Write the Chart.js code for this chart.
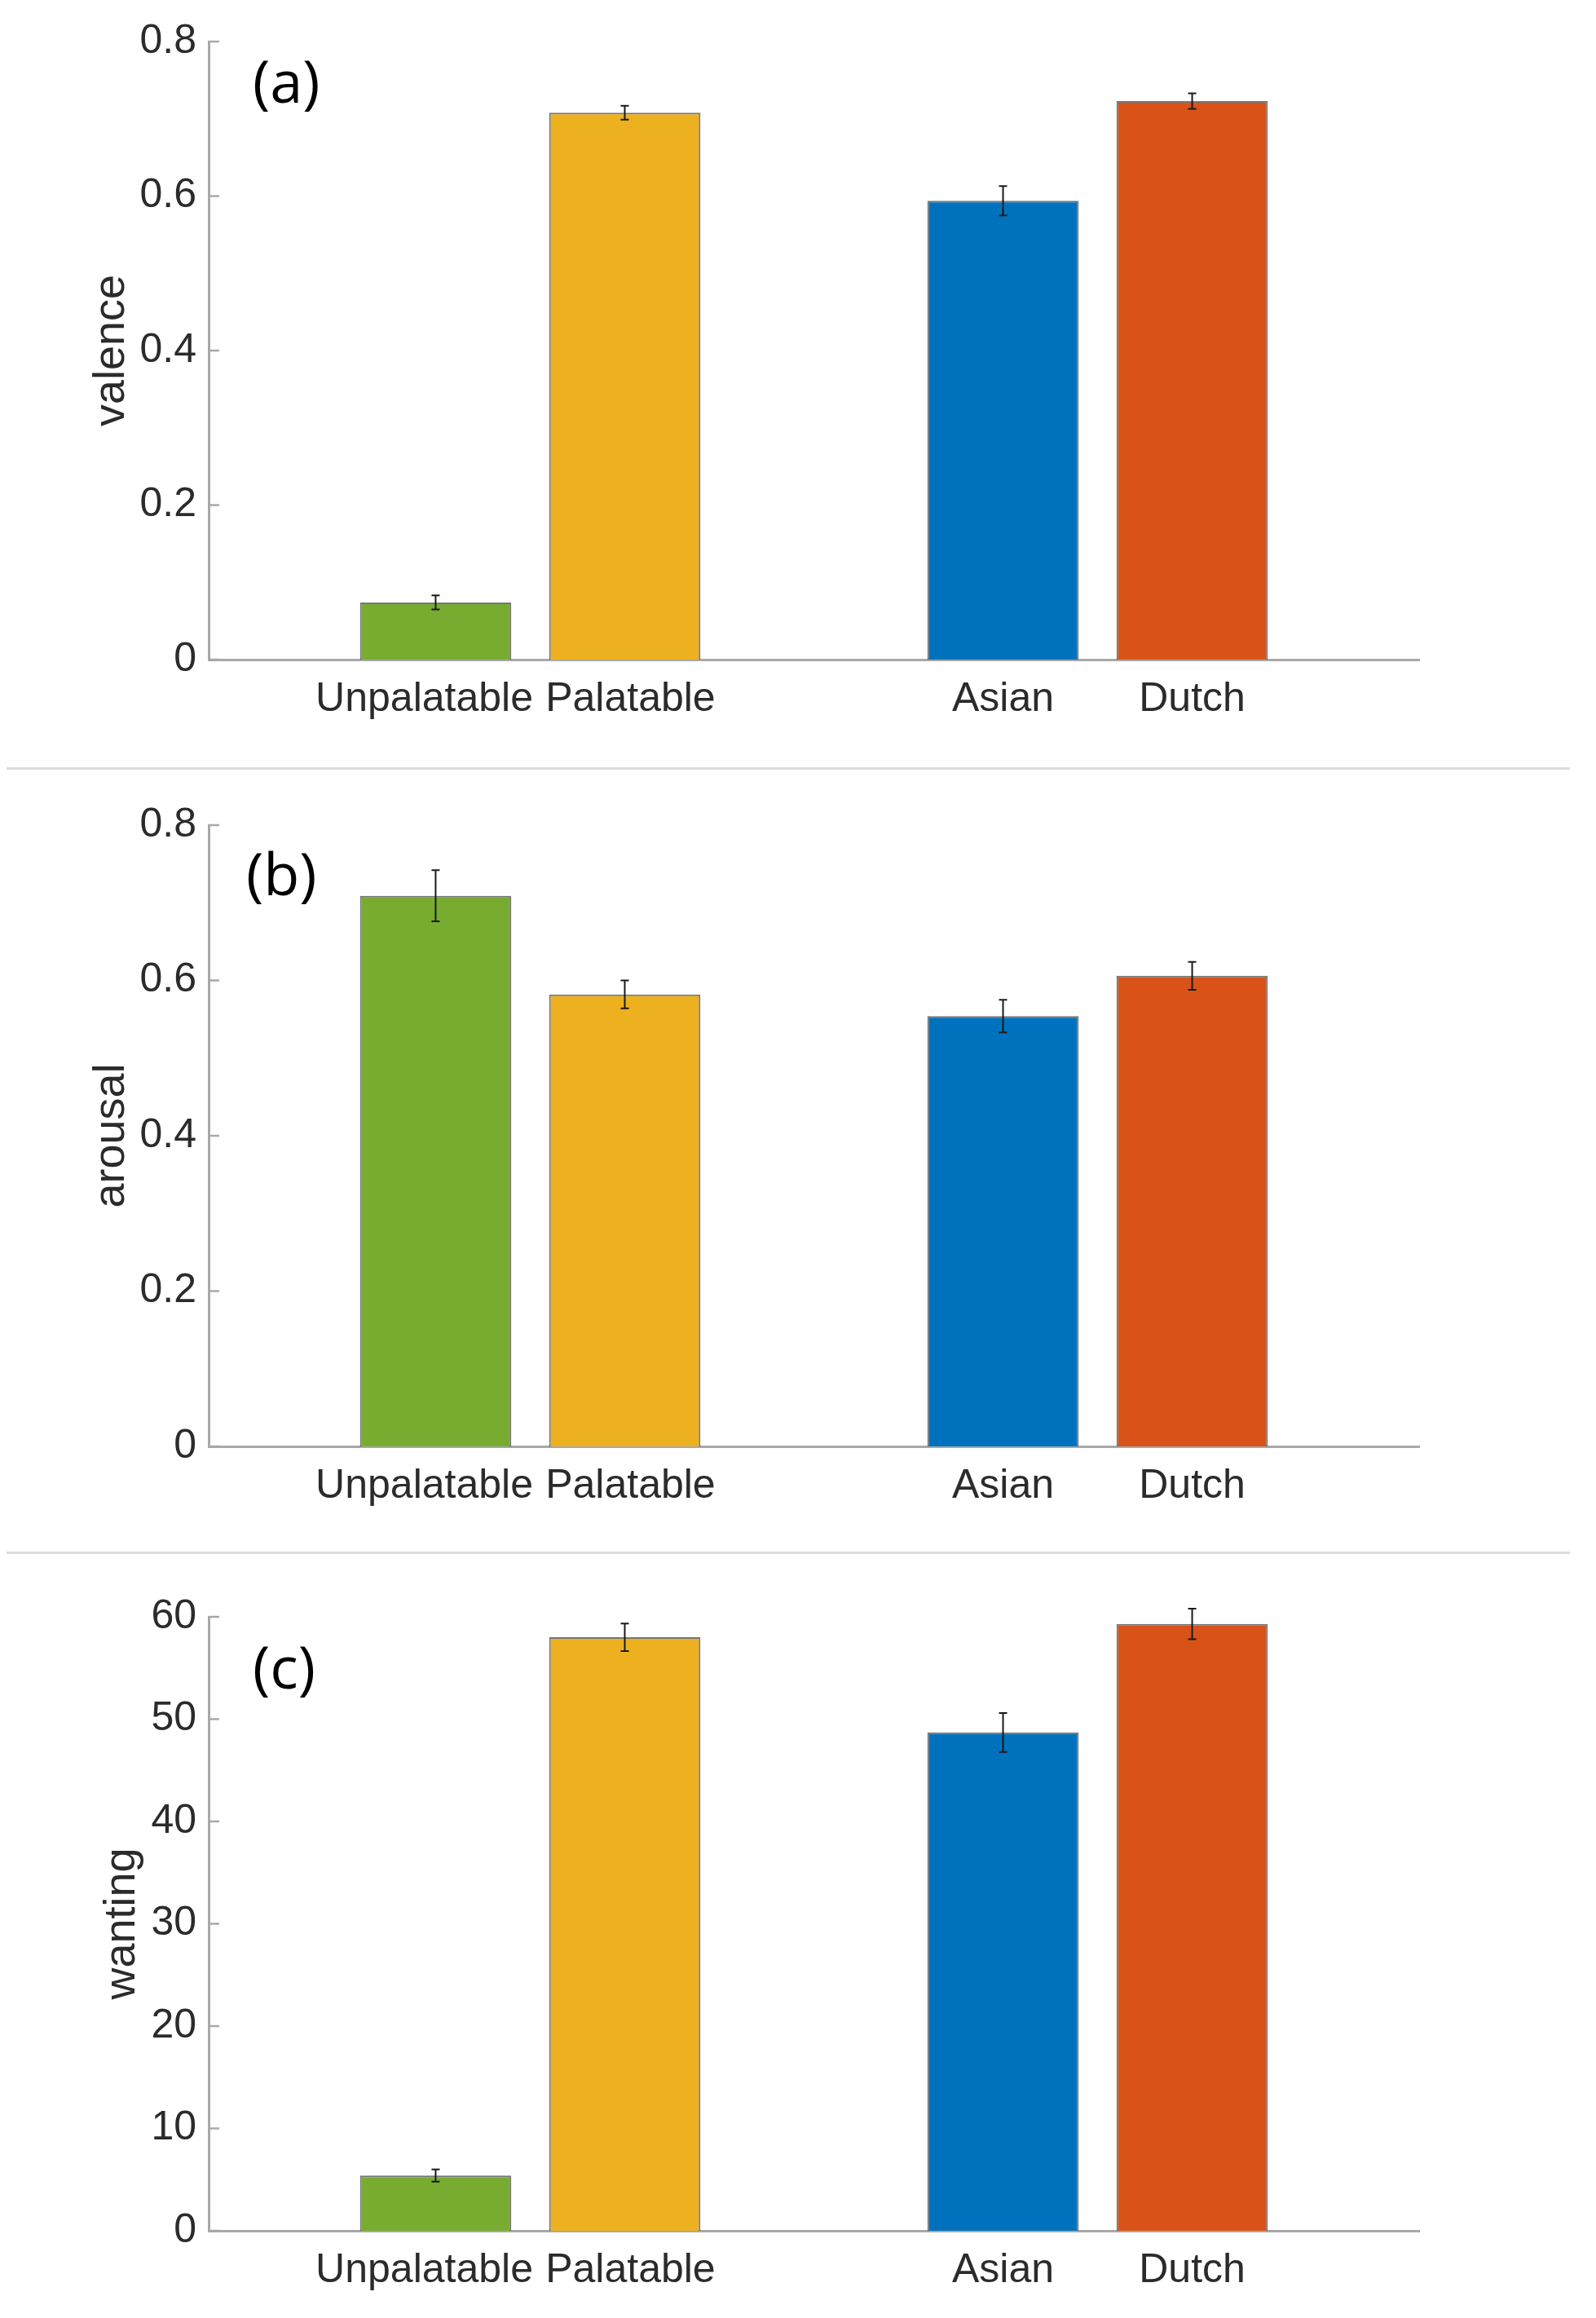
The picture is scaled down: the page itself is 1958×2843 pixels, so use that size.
<!DOCTYPE html>
<html>
<head>
<meta charset="utf-8">
<script src="https://cdn.jsdelivr.net/npm/chart.js@4"></script>
<style>
  body { margin: 0; background: #fff; }
  #page { position: relative; width: 1958px; height: 2843px; overflow: hidden; }
  .panel { position: absolute; left: 0; width: 1958px; }
  .sep { position: absolute; left: 8px; width: 1918px; height: 3px; background: #dcdcdc; }
</style>
</head>
<body>
<div id="page">
  <div class="panel" style="top:0px;height:941px"><canvas id="chart_a"></canvas></div>
  <div class="sep" style="top:941px"></div>
  <div class="panel" style="top:944px;height:959px"><canvas id="chart_b"></canvas></div>
  <div class="sep" style="top:1903px"></div>
  <div class="panel" style="top:1906px;height:937px"><canvas id="chart_c"></canvas></div>
</div>
<script>
// data
const categories = ["Unpalatable", "Palatable", "Asian", "Dutch"];
const positions = [1, 2, 4, 5];
const bar_colors = ["#77AC30", "#EDB120", "#0072BD", "#D95319"];

const valence = [0.074, 0.708, 0.594, 0.723];
const valence_err = [0.009, 0.009, 0.019, 0.010];
const arousal = [0.709, 0.582, 0.554, 0.606];
const arousal_err = [0.033, 0.018, 0.021, 0.018];
const wanting = [5.4, 58.0, 48.7, 59.3];
const wanting_err = [0.6, 1.35, 1.9, 1.5];

const fraction_ticks = [0, 0.2, 0.4, 0.6, 0.8];
const wanting_ticks = [0, 10, 20, 30, 40, 50, 60];

const font_family = "'Liberation Sans', Arial, sans-serif";
const axis_color = "#a8a8a8";
const text_color = "#2b2b2b";

// the two left labels sit a bit apart in the original, nudge them with spaces
function label_for(v) {
  const name = categories[positions.indexOf(v)];
  if (v == 1) return name + "  ";
  if (v == 2) return " " + name;
  return name;
}

// error bars + inward y ticks + panel letter
const extras_plugin = {
  id: "extras",
  afterDatasetsDraw(chart, args, opts) {
    const ctx = chart.ctx;
    const x = chart.scales.x, y = chart.scales.y;
    ctx.save();
    ctx.strokeStyle = "#1a1a1a";
    ctx.lineWidth = 2;
    opts.values.forEach((v, i) => {
      const px = x.getPixelForValue(positions[i]);
      const top = y.getPixelForValue(v + opts.errors[i]);
      const bot = y.getPixelForValue(v - opts.errors[i]);
      ctx.beginPath();
      ctx.moveTo(px, top); ctx.lineTo(px, bot);
      ctx.moveTo(px - 5, top); ctx.lineTo(px + 5, top);
      ctx.moveTo(px - 5, bot); ctx.lineTo(px + 5, bot);
      ctx.stroke();
    });
    // tick marks point into the plot like matlab
    ctx.strokeStyle = axis_color;
    ctx.lineWidth = 2.5;
    y.ticks.forEach(t => {
      const py = y.getPixelForValue(t.value);
      ctx.beginPath();
      ctx.moveTo(chart.chartArea.left, py);
      ctx.lineTo(chart.chartArea.left + 13, py);
      ctx.stroke();
    });
    ctx.fillStyle = "#000";
    ctx.font = "72px 'Open Sans', sans-serif";
    ctx.textBaseline = "alphabetic";
    ctx.textAlign = "left";
    ctx.fillText(opts.letter, chart.chartArea.left + opts.letter_dx, chart.chartArea.top + opts.letter_dy);
    ctx.restore();
  }
};

function make_chart(canvas_id, values, errors, y_ticks, y_title, cfg) {
  const points = values.map((v, i) => ({ x: positions[i], y: v }));
  return new Chart(document.getElementById(canvas_id), {
    type: "bar",
    data: {
      datasets: [{
        data: points,
        backgroundColor: bar_colors,
        borderColor: "rgba(45,45,45,0.65)",
        borderWidth: 2,
        categoryPercentage: 1,
        barPercentage: 0.8
      }]
    },
    options: {
      responsive: true,
      maintainAspectRatio: false,
      animation: false,
      devicePixelRatio: 1,
      layout: { padding: { top: cfg.top, left: 0, right: 217, bottom: 0 } },
      plugins: {
        legend: { display: false },
        tooltip: { enabled: false },
        extras: { values: values, errors: errors, letter: cfg.letter, letter_dx: cfg.letter_dx, letter_dy: cfg.letter_dy }
      },
      scales: {
        x: {
          type: "linear",
          offset: false,
          min: -0.2,
          max: 6.2,
          grid: { display: false, drawTicks: false, offset: false },
          border: { display: true, color: axis_color, width: 3 },
          afterBuildTicks: (scale) => { scale.ticks = positions.map(p => ({ value: p })); },
          afterFit: (scale) => { scale.height = cfg.x_height; },
          ticks: {
            autoSkip: false,
            maxRotation: 0,
            padding: 19,
            color: text_color,
            font: { family: font_family, size: 50 },
            callback: (v) => label_for(v)
          }
        },
        y: {
          min: y_ticks[0],
          max: y_ticks[y_ticks.length - 1],
          grid: { display: false, drawTicks: false },
          border: { display: true, color: axis_color, width: 3 },
          afterBuildTicks: (scale) => { scale.ticks = y_ticks.map(t => ({ value: t })); },
          afterFit: (scale) => { scale.width = 256; },
          ticks: {
            padding: 15,
            color: text_color,
            font: { family: font_family, size: 50 },
            callback: (v) => String(+v.toFixed(1))
          },
          title: {
            display: true,
            text: y_title,
            color: text_color,
            font: { family: font_family, size: 54 },
            padding: { top: cfg.title_pad, bottom: 0 }
          }
        }
      }
    },
    plugins: [extras_plugin]
  });
}

function mainEvent() {
  make_chart("chart_a", valence, valence_err, fraction_ticks, "valence",
    { top: 51, x_height: 132, title_pad: 105, letter: "(a)", letter_dx: 54, letter_dy: 75 });
  make_chart("chart_b", arousal, arousal_err, fraction_ticks, "arousal",
    { top: 68, x_height: 129, title_pad: 105, letter: "(b)", letter_dx: 46, letter_dy: 86 });
  make_chart("chart_c", wanting, wanting_err, wanting_ticks, "wanting",
    { top: 77, x_height: 107, title_pad: 118, letter: "(c)", letter_dx: 54, letter_dy: 88 });
}

document.addEventListener("DOMContentLoaded", mainEvent);
</script>
</body>
</html>
